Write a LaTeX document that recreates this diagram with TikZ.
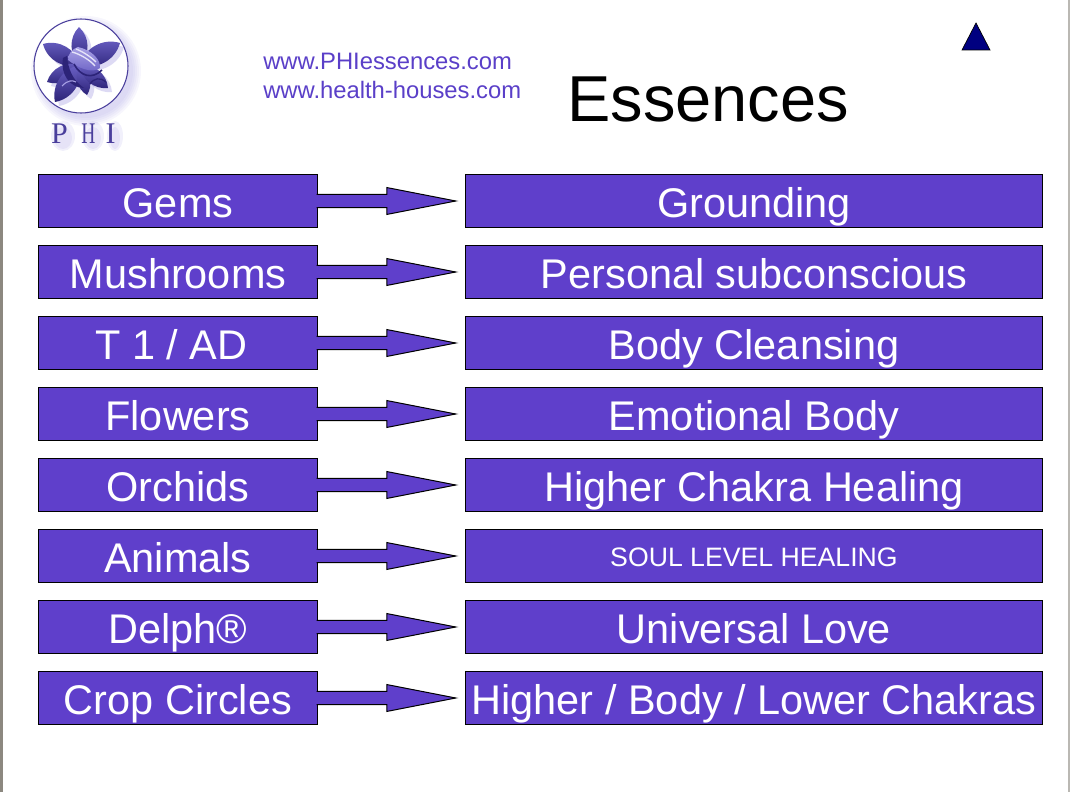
\documentclass[tikz,border=0pt]{standalone}
\usepackage{fontspec}
\setmainfont{Liberation Sans}
\newfontfamily\logofont{Liberation Serif}
\usepackage{tikz}
\usetikzlibrary{calc}

\definecolor{phiviolet}{HTML}{5F3FCB}
\definecolor{phiurl}{HTML}{5A3FC8}
\definecolor{phiink}{HTML}{4A3F9C}
\definecolor{phiglow}{HTML}{8F86DC}
\definecolor{phidark}{HTML}{2C2378}
\definecolor{phimid}{HTML}{6A60C4}
\definecolor{philight}{HTML}{A9A2E6}
\definecolor{phimark}{HTML}{000080}
\definecolor{phiedge}{HTML}{8C8880}

\tikzset{
  srcbox/.style={draw=black, line width=0.75pt, fill=phiviolet, text=white, inner sep=0pt,
    minimum width=208.9pt, minimum height=40.1pt, text height=24pt, text depth=0pt,
    font=\fontsize{31.1}{36}\selectfont},
  tgtbox/.style={srcbox, minimum width=433.1pt},
  tgtsmall/.style={tgtbox, text height=15pt, font=\fontsize{20}{24}\selectfont},
  blockarrow/.style={draw=black, line width=0.75pt, fill=phiviolet, line join=miter,
    to path={let \p1=(\tikztostart), \p2=(\tikztotarget) in
      (\x1-0.8pt,\y1+4.9pt) -- (\x1+51.75pt,\y1+4.9pt) -- (\x1+51.75pt,\y1+10.1pt)
      -- (\x2-6.75pt,\y1) -- (\x1+51.75pt,\y1-10.1pt) -- (\x1+51.75pt,\y1-4.9pt) -- (\x1-0.8pt,\y1-4.9pt)}},
  petal/.style={top color=phimid, bottom color=phidark, draw=none},
  urltext/.style={text=phiurl, inner sep=0pt, anchor=base west, font=\fontsize{17.85}{20}\selectfont},
  logoletter/.style={text=phiink, inner sep=0pt, anchor=base, font=\logofont\fontsize{22.5}{24}\selectfont}
}

\begin{document}
\begin{tikzpicture}[x=0.75pt, y=-0.75pt]
  \useasboundingbox (0,0) rectangle (1071,792);

  % Page edges
  \fill[phiedge] (0,0) rectangle (3,792);
  \fill[phiedge!60] (1068,0) rectangle (1070,792);

  % Logo glow
  \foreach \r in {55,53,51,49,47} {
    \fill[phiglow, opacity=0.07] (86,71) circle (\r);
  }
  \fill[white] (81,66) circle (47);
  \draw[phiink, line width=0.8pt] (81,66) circle (47);

  % Petals
  \foreach \tx/\ty in {79/27, 43/44, 120/43, 47/82, 55/102, 87/95, 108/88} {
    \fill[phiglow, opacity=0.3] (84,69) to[bend left=46] (\tx+4,\ty+4) to[bend left=46] (84,69);
  }
  \foreach \tx/\ty in {79/27, 43/44, 120/43, 47/82, 55/102, 87/95, 108/88} {
    \shade[petal] (80,65) to[bend left=46] (\tx,\ty) to[bend left=46] (80,65);
  }

  % Folded centre of the flower
  \shade[top color=philight, bottom color=phimid] (78,47) .. controls (92,50) and (101,60) .. (100,68)
    .. controls (92,74) and (78,68) .. (68,60) .. controls (68,54) and (72,49) .. (78,47);
  \fill[phidark] (63,58) .. controls (60,74) and (70,88) .. (84,88) .. controls (72,80) and (68,68) .. (67,56) -- cycle;
  \draw[white!70!philight, line width=1pt] (72,52) .. controls (80,54) and (90,60) .. (95,66);
  \draw[white!70!philight, line width=1pt] (76,49) .. controls (84,52) and (92,58) .. (96,62);
  \draw[phidark, line width=1.2pt] (74,64) .. controls (80,76) and (92,80) .. (102,70);
  \draw[phidark, line width=1pt] (90,84) .. controls (94,78) and (100,77) .. (106,82);
  \draw[philight, line width=0.8pt] (62,86) .. controls (68,80) and (72,80) .. (76,82);

  % Glow under the logo letters
  \foreach \gx/\gw in {60/9, 90/8, 112/5} {
    \fill[phiglow, opacity=0.12] (\gx+3,136) ellipse [x radius=\gw+3, y radius=15];
    \fill[phiglow, opacity=0.12] (\gx+3,138) ellipse [x radius=\gw, y radius=11];
  }

  % Logo letters
  \node[logoletter] (logop) at (59.5,143) {P};
  \node[logoletter, xscale=0.65] (logoh) at (88.5,143) {H};
  \node[logoletter] (logoi) at (110.5,143) {I};

  % Header
  \node[urltext] (urlphi) at (263,69.5) {www.PHIessences.com};
  \node[urltext] (urlhealth) at (263,98.5) {www.health-houses.com};
  \node[inner sep=0pt, anchor=base west, font=\fontsize{48.7}{54}\selectfont] (title) at (567,121.5) {Essences};

  % Small triangle
  \fill[phimark] (976,23) -- (990,50) -- (962,50) -- cycle;
  \draw[black, line width=0.5pt] (976,23) -- (990,50) -- (962,50) -- cycle;

  % Rows
  \foreach \i/\y/\lab/\res/\sty in {
    1/201/Gems/Grounding/tgtbox,
    2/272/Mushrooms/Personal subconscious/tgtbox,
    3/343/{T 1 / AD\hspace*{10pt}}/Body Cleansing/tgtbox,
    4/414/Flowers/Emotional Body/tgtbox,
    5/485/Orchids/Higher Chakra Healing/tgtbox,
    6/556/Animals/SOUL LEVEL HEALING/tgtsmall,
    7/627/Delph®/Universal Love/tgtbox,
    8/698/Crop Circles/{Higher / Body / Lower Chakras}/tgtbox} {
    \node[srcbox] (src\i) at (178,\y) {\lab};
    \node[\sty] (tgt\i) at (754,\y) {\res};
    \draw[blockarrow] (src\i.east) to (tgt\i.west);
  }
\end{tikzpicture}
\end{document}
